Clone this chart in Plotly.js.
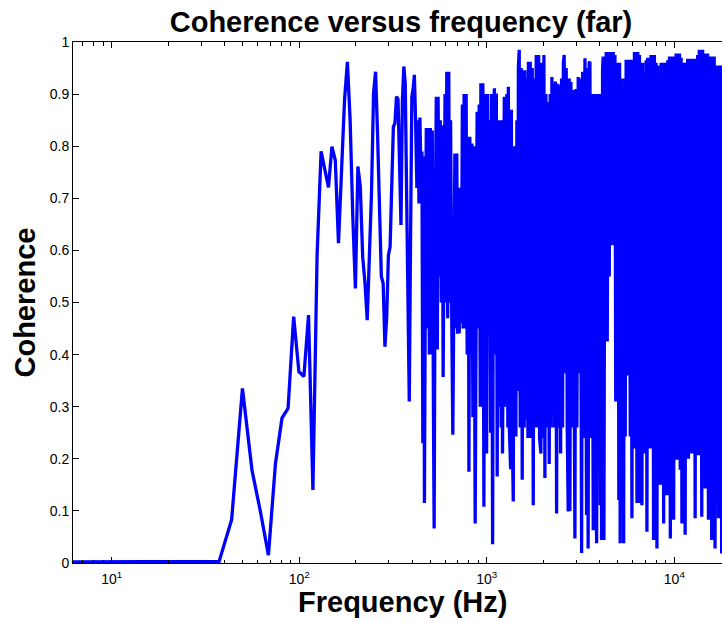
<!DOCTYPE html>
<html>
<head>
<meta charset="utf-8">
<script src="https://cdn.plot.ly/plotly-3.0.1.min.js"></script>
<style>
html, body { margin: 0; padding: 0; background: #fff; }
#chart { width: 722px; height: 622px; }
</style>
</head>
<body>
<div id="chart"></div>
<script>
// ---- data ----
// low-frequency bins (Hz) and coherence
const lowFreq = [6.2, 12.5, 18.7, 24.9, 31.1, 37.4, 43.6, 49.8, 56.0, 62.3, 68.5, 74.7, 80.9, 87.2, 93.4, 99.6,
  105.9, 112.1, 118.3, 124.5, 130.8, 137.0, 143.2, 149.4, 155.7, 161.9, 168.1, 174.4, 180.6, 186.8, 193.0,
  199.3, 205.5, 211.7, 217.9, 224.2, 230.4, 236.6, 242.8, 249.1, 255.3, 261.5, 267.8, 274.0, 280.2, 286.4,
  292.7, 298.9, 305.1, 311.4, 317.6, 323.8, 330.0, 336.3, 342.5, 348.7, 354.9, 361.2, 367.4, 373.6, 379.8,
  386.1, 392.3, 398.5, 404.8, 411.0, 417.2];
const lowCoh = [0.002, 0.002, 0.002, 0.002, 0.003, 0.003, 0.083, 0.335, 0.178, 0.096, 0.015, 0.191, 0.278, 0.297, 0.473, 0.367,
  0.358, 0.476, 0.140, 0.59, 0.790, 0.758, 0.721, 0.799, 0.773, 0.614, 0.76, 0.889, 0.962, 0.850, 0.665,
  0.527, 0.761, 0.722, 0.588, 0.537, 0.466, 0.582, 0.710, 0.902, 0.943, 0.825, 0.665, 0.550, 0.537, 0.415,
  0.473, 0.591, 0.607, 0.729, 0.837, 0.844, 0.895, 0.89, 0.729, 0.649, 0.889, 0.953, 0.92, 0.697, 0.473,
  0.310, 0.626, 0.895, 0.91, 0.937, 0.85];

// mid band (dense, peaks and dips as seen per pixel column)
const midFreq = [424, 429, 435, 440, 445, 451, 456, 462, 465, 471, 476, 481, 487, 494, 500, 506, 512, 519, 524, 530,
  538, 545, 550, 558, 565, 572, 580, 585, 593, 599, 606, 612, 619, 627, 634, 641, 651, 659, 667, 676,
  684, 692, 699, 707, 713, 722, 732, 741, 748, 757, 767, 776, 786, 797, 803, 812, 823, 833, 843, 853,
  867, 877, 888, 899, 911, 923, 930, 942, 953, 965, 977, 989, 998, 1010, 1022, 1035, 1048, 1060, 1074, 1087,
  1098, 1111, 1124, 1136, 1149, 1164];
const midCoh = [0.72, 0.85, 0.69, 0.855, 0.75, 0.79, 0.23, 0.78, 0.115, 0.60, 0.835, 0.45, 0.835, 0.40, 0.835, 0.40, 0.83, 0.32, 0.066, 0.60,
  0.895, 0.41, 0.895, 0.55, 0.85, 0.50, 0.84, 0.357, 0.60, 0.90, 0.50, 0.943, 0.47, 0.943, 0.50, 0.85, 0.45, 0.246, 0.50, 0.786,
  0.45, 0.786, 0.44, 0.72, 0.441, 0.72, 0.46, 0.88, 0.45, 0.90, 0.45, 0.90, 0.40, 0.818, 0.175, 0.818, 0.40, 0.805, 0.28, 0.80,
  0.076, 0.50, 0.866, 0.45, 0.88, 0.30, 0.921, 0.30, 0.921, 0.108, 0.90, 0.45, 0.21, 0.90, 0.45, 0.85, 0.25, 0.90, 0.036, 0.85,
  0.911, 0.40, 0.901, 0.166, 0.85, 0.30];

const upperFreq = [1178, 1192, 1203, 1213, 1228, 1240, 1252, 1264, 1280, 1295, 1303, 1319, 1340, 1352, 1366, 1384, 1400, 1417, 1429, 1447,
  1460, 1474, 1489, 1507, 1526, 1545, 1564, 1583, 1596, 1616, 1636, 1657, 1667, 1688, 1705, 1726, 1747, 1769, 1790, 1812,
  1835, 1858, 1890, 1912, 1943, 1967, 1991, 2016, 2041, 2066, 2092, 2110, 2136, 2152, 2178, 2206, 2224, 2244, 2271, 2300,
  2322, 2356, 2386, 2415, 2445, 2475, 2505, 2536, 2561, 2587, 2618, 2651, 2684, 2718, 2751, 2774, 2808, 2843, 2878, 2914,
  2950, 2986, 3023, 3072, 3110, 3149, 3203, 3243, 3284, 3337, 3376, 3404, 3436, 3470, 3513, 3547, 3591, 3635, 3695, 3742,
  3790, 3852, 3898, 3946, 3994, 4024, 4058, 4093, 4144, 4175, 4212, 4265, 4300, 4333, 4388, 4442, 4497];
const upperCoh = [0.85, 0.26, 0.85, 0.21, 0.80, 0.895, 0.30, 0.43, 0.90, 0.26, 0.914, 0.26, 0.18, 0.87, 0.26, 0.118, 0.80, 0.26, 0.243, 0.85,
  0.33, 0.95, 0.985, 0.26, 0.95, 0.16, 0.946, 0.26, 0.946, 0.274, 0.93, 0.24, 0.962, 0.24, 0.962, 0.24, 0.95, 0.111, 0.93, 0.26,
  0.975, 0.26, 0.975, 0.24, 0.21, 0.96, 0.24, 0.975, 0.163, 0.90, 0.26, 0.885, 0.24, 0.19, 0.90, 0.26, 0.933, 0.34, 0.92, 0.26,
  0.924, 0.095, 0.92, 0.26, 0.917, 0.21, 0.93, 0.26, 0.96, 0.975, 0.364, 0.95, 0.26, 0.099, 0.93, 0.10, 0.923, 0.26, 0.908, 0.24,
  0.047, 0.91, 0.26, 0.933, 0.364, 0.93, 0.019, 0.943, 0.24, 0.969, 0.24, 0.092, 0.95, 0.028, 0.96, 0.962, 0.24, 0.90, 0.063, 0.90,
  0.24, 0.038, 0.90, 0.24, 0.895, 0.111, 0.90, 0.044, 0.95, 0.972, 0.044, 0.97, 0.43, 0.981, 0.425, 0.981, 0.55];

const highFreq = [4534, 4580, 4630, 4676, 4725, 4774, 4822, 4870, 4922, 4971, 5020, 5058, 5106, 5143, 5200, 5255, 5306, 5366, 5419, 5472,
  5533, 5587, 5643, 5706, 5762, 5819, 5884, 5941, 5998, 6065, 6126, 6188, 6257, 6319, 6382, 6454, 6520, 6586, 6662, 6717,
  6785, 6862, 6934, 7003, 7080, 7142, 7212, 7293, 7363, 7433, 7511, 7594, 7665, 7750, 7828, 7904, 7994, 8075, 8156, 8247,
  8327, 8410, 8501, 8588, 8671, 8769, 8851, 8939, 9038, 9130, 9222, 9327, 9420, 9518, 9622, 9710, 9810, 9915, 10012, 10111,
  10222, 10322, 10424, 10542, 10646, 10750, 10870, 10976, 11080, 11206, 11312, 11420, 11530, 11640, 11770, 11890, 12010, 12140, 12260, 12380,
  12520, 12640, 12770, 12910, 13040, 13170, 13320, 13440, 13580, 13730, 13860, 14000, 14150, 14290, 14440, 14600, 14740, 14880, 15040, 15200,
  15340, 15510, 15670, 15820, 16000, 16150, 16310, 16480, 16660, 16830, 17020, 17190, 17350, 17550, 17710, 17880, 18050];
const highCoh = [0.981, 0.61, 0.981, 0.62, 0.981, 0.61, 0.975, 0.31, 0.96, 0.40, 0.96, 0.121, 0.96, 0.038, 0.93, 0.22, 0.90, 0.038, 0.93, 0.243,
  0.966, 0.36, 0.966, 0.36, 0.966, 0.243, 0.966, 0.086, 0.966, 0.22, 0.981, 0.23, 0.981, 0.115, 0.981, 0.115, 0.975, 0.22, 0.96, 0.111,
  0.96, 0.22, 0.94, 0.21, 0.965, 0.06, 0.97, 0.22, 0.97, 0.22, 0.975, 0.237, 0.975, 0.044, 0.975, 0.22, 0.96, 0.028, 0.955, 0.22,
  0.875, 0.15, 0.96, 0.24, 0.96, 0.076, 0.96, 0.22, 0.96, 0.13, 0.965, 0.24, 0.972, 0.047, 0.972, 0.22, 0.972, 0.083, 0.972, 0.22,
  0.978, 0.198, 0.978, 0.22, 0.978, 0.179, 0.97, 0.076, 0.96, 0.22, 0.96, 0.054, 0.924, 0.22, 0.968, 0.20, 0.968, 0.24, 0.968, 0.21,
  0.968, 0.22, 0.968, 0.086, 0.968, 0.22, 0.975, 0.207, 0.985, 0.24, 0.985, 0.089, 0.985, 0.22, 0.978, 0.143, 0.978, 0.24, 0.978, 0.083,
  0.972, 0.22, 0.972, 0.044, 0.972, 0.22, 0.972, 0.028, 0.955, 0.22, 0.955, 0.086, 0.955, 0.22, 0.955, 0.018, 0.95];

// axis ticks and labels
const xTickVals = [10, 100, 1000, 10000];
const xTickText = ['10<sup>1</sup>', '10<sup>2</sup>', '10<sup>3</sup>', '10<sup>4</sup>'];
const xMinorVals = [7, 8, 9, 20, 30, 40, 50, 60, 70, 80, 90, 200, 300, 400, 500, 600, 700, 800, 900,
  2000, 3000, 4000, 5000, 6000, 7000, 8000, 9000];
const yTickVals = [0, 0.1, 0.2, 0.3, 0.4, 0.5, 0.6, 0.7, 0.8, 0.9, 1];
const yTickText = ['0', '0.1', '0.2', '0.3', '0.4', '0.5', '0.6', '0.7', '0.8', '0.9', '1'];
const xRangeHz = [6.22, 17950];

const titleText = 'Coherence versus frequency (far)';
const xTitle = 'Frequency (Hz)';
const yTitle = 'Coherence';

// ---- chart ----
const freq = lowFreq.concat(midFreq, upperFreq, highFreq);
const coh = lowCoh.concat(midCoh, upperCoh, highCoh);

const FONT = 'Liberation Sans, Arial, Helvetica, sans-serif';

const trace = {
  type: 'scatter',
  mode: 'lines',
  x: freq,
  y: coh,
  line: { color: '#0000ff', width: 3.3 },
  hoverinfo: 'skip'
};

const layout = {
  width: 722,
  height: 622,
  margin: { l: 73, r: 0, t: 42, b: 59 },
  paper_bgcolor: '#ffffff',
  plot_bgcolor: '#ffffff',
  showlegend: false,
  font: { family: FONT, size: 14, color: '#000000' },
  title: {
    text: titleText,
    font: { family: FONT, size: 29, weight: 'bold', color: '#000000' },
    xref: 'container', x: 401 / 722, xanchor: 'center',
    yref: 'container', y: 1 - 22 / 622, yanchor: 'middle'
  },
  xaxis: {
    type: 'log',
    range: [Math.log10(xRangeHz[0]), Math.log10(xRangeHz[1])],
    tickmode: 'array',
    tickvals: xTickVals,
    ticktext: xTickText,
    ticks: 'inside',
    ticklen: 6,
    tickwidth: 1,
    tickcolor: '#000000',
    tickfont: { family: FONT, size: 14, color: '#000000' },
    ticklabelstandoff: 3,
    minor: { tickmode: 'array', tickvals: xMinorVals, ticks: 'inside', ticklen: 3.5, tickwidth: 1, tickcolor: '#000000', showgrid: false },
    showline: true, linecolor: '#000000', linewidth: 1, mirror: 'ticks',
    showgrid: false, zeroline: false, fixedrange: true
  },
  yaxis: {
    range: [0, 1],
    tickmode: 'array',
    tickvals: yTickVals,
    ticktext: yTickText,
    ticks: 'inside',
    ticklen: 6,
    tickwidth: 1,
    tickcolor: '#000000',
    tickfont: { family: FONT, size: 14, color: '#000000' },
    showline: true, linecolor: '#000000', linewidth: 1, mirror: false,
    showgrid: false, zeroline: false, fixedrange: true
  },
  annotations: [
    { text: xTitle, xref: 'paper', yref: 'paper', x: (402 - 73) / 649, y: -0.04, xanchor: 'center', yanchor: 'top',
      showarrow: false, font: { family: FONT, size: 29, weight: 'bold', color: '#000000' } },
    { text: yTitle, xref: 'paper', yref: 'paper', x: (24 - 73) / 649, y: 0.5, xanchor: 'center', yanchor: 'middle',
      textangle: -90, showarrow: false, font: { family: FONT, size: 29, weight: 'bold', color: '#000000' } }
  ]
};

Plotly.newPlot('chart', [trace], layout, { displayModeBar: false, staticPlot: true });
</script>
</body>
</html>
